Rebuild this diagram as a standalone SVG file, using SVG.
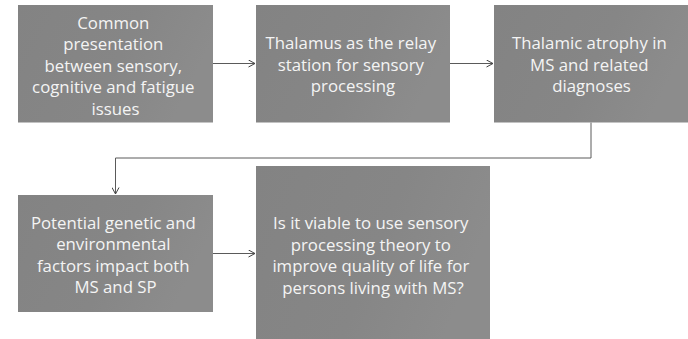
<svg xmlns="http://www.w3.org/2000/svg" width="688" height="339" viewBox="0 0 688 339">
  <defs>
    <linearGradient id="boxFill" x1="0" y1="0" x2="1" y2="0.3">
      <stop offset="0" stop-color="#838383"/>
      <stop offset="0.6" stop-color="#868686"/>
      <stop offset="1" stop-color="#8c8c8c"/>
    </linearGradient>
    <marker id="open" viewBox="0 0 8 8" refX="7.5" refY="4" markerWidth="8" markerHeight="8" markerUnits="userSpaceOnUse" orient="auto">
      <path d="M1,0.5 L7.5,4 L1,7.5" fill="none" stroke="#404040" stroke-width="1"/>
    </marker>
  </defs>
  <style>
    .box { fill: url(#boxFill); }
    .label { font-family: "Open Sans", "Noto Sans", sans-serif; font-size: 16.8px; fill: #f4f4f4; text-anchor: middle; }
    .conn { fill: none; stroke: #5a5a5a; stroke-width: 1; marker-end: url(#open); }
  </style>
  <rect width="688" height="339" fill="#ffffff"/>

  <!-- connectors -->
  <g id="connectors">
    <path class="conn" d="M213,63.5 H255"/>
    <path class="conn" d="M450,63.5 H493"/>
    <path class="conn" d="M591,122.5 V158 H115.5 V194"/>
    <path class="conn" d="M213,253.5 H255"/>
  </g>

  <!-- step 1 -->
  <g id="node-common-presentation">
    <rect class="box" x="18" y="5" width="195" height="117.5"/>
    <text class="label">
      <tspan x="115.5" y="28.5">Common</tspan>
      <tspan x="115.5" y="50">presentation</tspan>
      <tspan x="115.5" y="71.5">between sensory,</tspan>
      <tspan x="115.5" y="93">cognitive and fatigue</tspan>
      <tspan x="115.5" y="114.5">issues</tspan>
    </text>
  </g>

  <!-- step 2 -->
  <g id="node-thalamus-relay">
    <rect class="box" x="256" y="5" width="194" height="117.5"/>
    <text class="label">
      <tspan x="353" y="49">Thalamus as the relay</tspan>
      <tspan x="353" y="70.5">station for sensory</tspan>
      <tspan x="353" y="92">processing</tspan>
    </text>
  </g>

  <!-- step 3 -->
  <g id="node-thalamic-atrophy">
    <rect class="box" x="494" y="5" width="195" height="117.5"/>
    <text class="label">
      <tspan x="591.5" y="49">Thalamic atrophy in</tspan>
      <tspan x="591.5" y="70.5">MS and related</tspan>
      <tspan x="591.5" y="92">diagnoses</tspan>
    </text>
  </g>

  <!-- step 4 -->
  <g id="node-genetic-environmental">
    <rect class="box" x="18" y="195" width="195" height="117"/>
    <text class="label">
      <tspan x="115.5" y="228.5">Potential genetic and</tspan>
      <tspan x="115.5" y="250">environmental</tspan>
      <tspan x="115.5" y="271.5">factors impact both</tspan>
      <tspan x="115.5" y="293">MS and SP</tspan>
    </text>
  </g>

  <!-- step 5 -->
  <g id="node-viability-question">
    <rect class="box" x="256" y="166" width="234" height="180"/>
    <text class="label">
      <tspan x="373" y="229">Is it viable to use sensory</tspan>
      <tspan x="373" y="250.5">processing theory to</tspan>
      <tspan x="373" y="272">improve quality of life for</tspan>
      <tspan x="373" y="293.5">persons living with MS?</tspan>
    </text>
  </g>
</svg>
